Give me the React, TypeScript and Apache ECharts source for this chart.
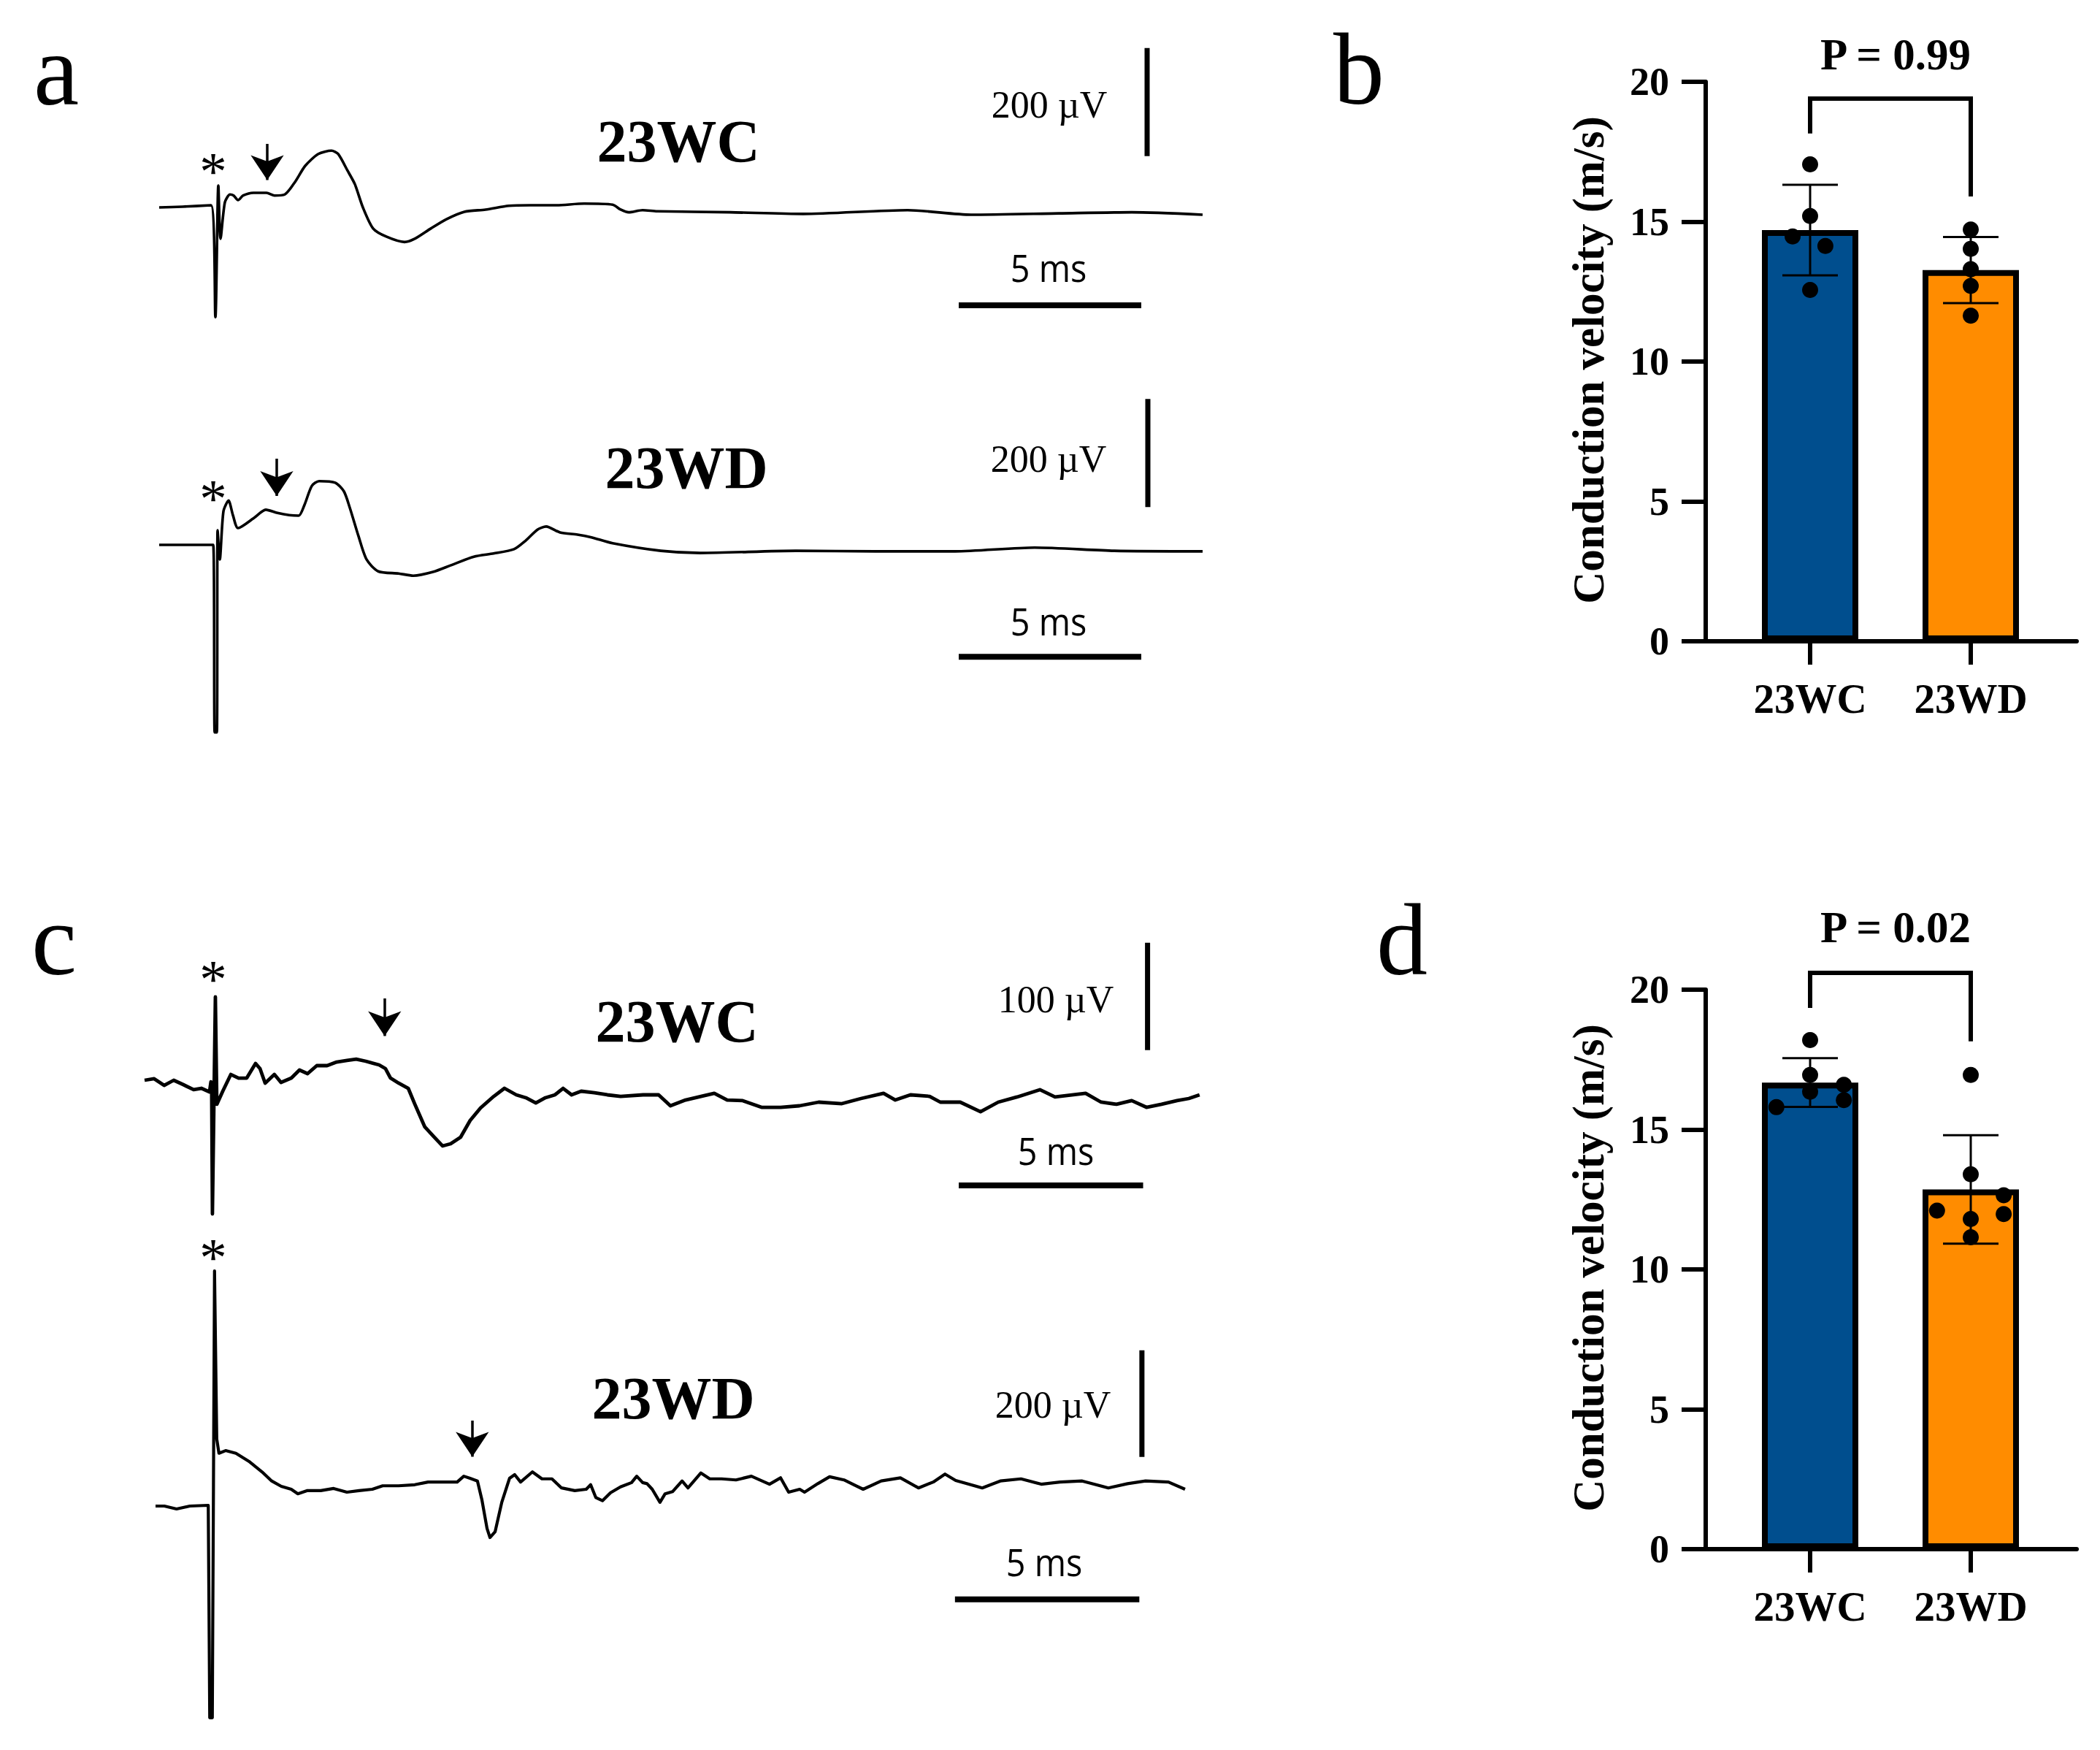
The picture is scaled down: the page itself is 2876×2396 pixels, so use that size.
import React, { useEffect, useRef } from 'react';
import * as echarts from 'echarts';

const W = 2876;
const H = 2396;
const SERIF = '"Liberation Serif", "Times New Roman", serif';
const SANS = '"Open Sans", "Noto Sans", sans-serif';

// ---------- Trace data: [time (ms), amplitude (µV)] ----------
const traceA1: [number, number][] = [
  [0, 0], [0.64, 1.4], [1.42, 4], [1.54, -203], [1.62, 40.5], [1.68, -58], [1.8, 9.5], [1.94, 24],
  [2.04, 22], [2.16, 13.5], [2.3, 22], [2.58, 27], [2.94, 27], [3.16, 22], [3.44, 24], [3.72, 47],
  [4.0, 77], [4.36, 99], [4.72, 105], [4.9, 99], [5.16, 68], [5.36, 43], [5.58, 0], [5.86, -39],
  [6.22, -54], [6.72, -64], [7.0, -58], [7.44, -39], [7.86, -22], [8.36, -8], [8.94, -4], [9.58, 3],
  [10.16, 4], [10.84, 4], [11.64, 7], [12.42, 5], [12.64, -4], [12.86, -9], [13.24, -5], [13.64, -7],
  [15.64, -9], [17.64, -12], [20.5, -5], [22.24, -13.5], [24.64, -11], [26.64, -9], [28.58, -13.5],
];

const traceA2: [number, number][] = [
  [0, 0], [1.48, 0], [1.52, -347], [1.58, -347], [1.6, 27], [1.66, -27], [1.76, 62], [1.9, 82],
  [2.02, 55], [2.16, 31], [2.6, 50], [2.92, 65], [3.24, 59], [3.56, 55], [3.82, 54], [3.98, 74],
  [4.18, 109], [4.38, 118], [4.82, 115], [5.06, 99], [5.22, 69], [5.46, 16], [5.68, -27], [6.0, -49],
  [6.56, -53], [6.96, -57], [7.5, -50], [7.98, -38], [8.62, -22], [9.16, -16], [9.72, -8], [10.04, 8],
  [10.36, 28], [10.6, 34], [10.98, 23], [11.46, 19], [11.84, 14], [12.42, 3], [13.74, -11], [14.82, -15],
  [17.44, -11], [19.62, -12], [21.8, -12], [23.98, -5], [26.16, -11], [28.58, -12],
];

const traceC1: [number, number][] = [
  [0, 0], [0.26, 1.4], [0.53, -4.8], [0.79, 0], [1.05, -4.1], [1.33, -8.8], [1.54, -7.5], [1.76, -10.9],
  [1.8, -1.4], [1.82, -10.9], [1.84, -124.5], [1.92, 77.6], [1.96, -22.4], [2.12, -10.2], [2.34, 5.4],
  [2.55, 2.0], [2.77, 2.0], [3.01, 15.6], [3.13, 10.9], [3.27, -2.7], [3.52, 5.4], [3.7, -2.0], [3.98, 2.0],
  [4.2, 9.5], [4.42, 6.1], [4.67, 13.6], [4.95, 13.6], [5.21, 17.0], [5.49, 18.4], [5.74, 19.7], [6.0, 17.7],
  [6.36, 14.3], [6.53, 10.9], [6.67, 2.0], [6.89, -2.7], [7.15, -7.5], [7.33, -22.4], [7.6, -43.5],
  [7.86, -53.1], [8.08, -61.2], [8.3, -59.2], [8.57, -53.1], [8.83, -37.4], [9.11, -25.9], [9.47, -15.0],
  [9.76, -7.5], [10.08, -13.6], [10.34, -16.3], [10.61, -21.1], [10.87, -16.3], [11.13, -13.6], [11.35, -7.5],
  [11.58, -13.6], [11.84, -10.2], [12.2, -11.6], [12.55, -13.6], [12.91, -15.0], [13.52, -13.6], [13.94, -13.6],
  [14.26, -23.8], [14.67, -18.4], [15.09, -15.0], [15.45, -12.2], [15.8, -18.4], [16.22, -19.0], [16.73, -25.2],
  [17.25, -25.2], [17.76, -23.8], [18.28, -20.4], [18.91, -21.8], [19.43, -17.0], [20.04, -12.2], [20.36, -18.4],
  [20.77, -13.6], [21.29, -15.0], [21.58, -20.4], [22.12, -20.4], [22.67, -29.3], [23.15, -20.4], [23.66, -15.6],
  [24.28, -8.8], [24.69, -15.6], [25.52, -12.2], [25.94, -20.4], [26.36, -22.4], [26.77, -19.0], [27.17, -25.2],
  [27.58, -22.4], [28.0, -19.0], [28.32, -17.0], [28.61, -13.6],
];

const traceC2: [number, number][] = [
  [0, 0], [0.24, 0], [0.57, -5.5], [0.93, 0], [1.43, 1.4], [1.47, -397], [1.54, -397], [1.6, 441],
  [1.66, 126], [1.72, 99], [1.9, 104], [2.18, 99], [2.53, 84], [2.89, 64], [3.15, 47], [3.41, 37],
  [3.68, 31.5], [3.86, 23], [4.12, 29], [4.48, 29], [4.83, 33], [5.19, 26], [5.52, 29], [5.88, 31.5],
  [6.16, 38], [6.59, 38], [7.03, 40], [7.39, 45], [7.84, 45], [8.18, 45], [8.36, 56], [8.53, 52],
  [8.73, 47], [8.85, 12], [8.99, -42], [9.07, -59], [9.21, -48], [9.39, 7], [9.6, 52], [9.74, 59],
  [9.9, 45], [10.22, 64], [10.48, 51], [10.75, 51], [11.01, 34], [11.37, 29], [11.68, 31.5], [11.8, 40],
  [11.94, 16], [12.12, 10], [12.34, 25], [12.61, 36], [12.91, 44], [13.05, 56], [13.21, 44], [13.33, 42],
  [13.47, 31.5], [13.68, 7], [13.82, 23], [14.02, 27], [14.28, 47], [14.44, 34], [14.79, 62], [15.03, 51],
  [15.35, 51], [15.74, 49], [16.16, 56], [16.65, 41], [16.95, 53], [17.17, 26], [17.47, 31.5], [17.6, 26],
  [17.96, 42], [18.28, 55], [18.67, 49], [19.19, 31.5], [19.68, 47], [20.2, 53], [20.69, 34], [21.09, 45],
  [21.41, 60], [21.7, 48], [22.42, 34], [22.91, 47], [23.47, 51], [24.02, 41], [24.53, 45], [25.13, 47],
  [25.84, 34], [26.36, 42], [26.85, 47], [27.47, 45], [27.92, 31.5],
];

// scale bars
const SCALE_MS = 5;
const scaleUvA1 = 200;
const scaleUvA2 = 200;
const scaleUvC1 = 100;
const scaleUvC2 = 200;

// ---------- Bar chart data ----------
const groups = ['23WC', '23WD'];
const meanB = [14.7, 13.27];
const sdB = [1.62, 1.18];
const dotsB_WC: [number, number][] = [[0, 17.05], [0, 15.2], [-0.109, 14.47], [0.095, 14.13], [0, 12.56]];
const dotsB_WD: [number, number][] = [[0, 14.72], [0, 14.03], [0, 13.3], [0, 12.7], [0, 11.64]];
const bracketB = { left: 18.15, top: 19.4, right: 15.9 };
const pLabelB = 'P = 0.99';

const meanD = [16.68, 12.86];
const sdD = [0.87, 1.94];
const dotsD_WC: [number, number][] = [[0, 18.2], [0, 16.95], [0.21, 16.6], [0, 16.35], [0.21, 16.05], [-0.21, 15.8]];
const dotsD_WD: [number, number][] = [[0, 16.95], [0, 13.4], [0.205, 12.65], [-0.21, 12.1], [0.205, 11.98], [0, 11.8], [0, 11.15]];
const bracketD = { left: 19.35, top: 20.6, right: 18.15 };
const pLabelD = 'P = 0.02';

const yTicks = { min: 0, max: 20, interval: 5 };
const barColors = ['#004E8E', '#FF8C00'];

// ---------- Layout ----------
const SPAN_MS = 29;
const traceLayouts = [
  { data: traceA1, x0: 218, pxMs: 50, base: 284, pxUv: 0.74, vMin: -250, vMax: 300, lw: 3.6, smooth: 0.25,
    hBar: [21.9, -181], vBar: [27.06, 95], uv: scaleUvA1, arrow: [2.96, 117.6, 50.7] },
  { data: traceA2, x0: 218, pxMs: 50, base: 746, pxUv: 0.74, vMin: -400, vMax: 300, lw: 3.6, smooth: 0.25,
    hBar: [21.9, -207], vBar: [27.08, 70], uv: scaleUvA2, arrow: [3.22, 159.5, 90.5] },
  { data: traceC1, x0: 198, pxMs: 50.5, base: 1479, pxUv: 1.47, vMin: -150, vMax: 150, lw: 4.8, smooth: false,
    hBar: [22.08, -98], vBar: [27.2, 28], uv: scaleUvC1, arrow: [6.51, 76.2, 41.2] },
  { data: traceC2, x0: 213, pxMs: 50.5, base: 2062, pxUv: 0.73, vMin: -450, vMax: 450, lw: 4.2, smooth: false,
    hBar: [21.68, -175], vBar: [26.75, 92], uv: scaleUvC2, arrow: [8.59, 160.3, 92.5] },
];

const barLayouts = [
  { top: 112, means: meanB, sds: sdB, dots: [dotsB_WC, dotsB_WD], bracket: bracketB },
  { top: 1355, means: meanD, sds: sdD, dots: [dotsD_WC, dotsD_WD], bracket: bracketD },
];
const BAR_LEFT = 2336;
const BAR_W = 508;
const BAR_H = 766;
const PX_PER_CAT = 220;
const X_MIN = 0.35;

function buildOption() {
  const grid: any[] = [];
  const xAxis: any[] = [];
  const yAxis: any[] = [];
  const series: any[] = [];

  traceLayouts.forEach((t, i) => {
    grid.push({
      left: t.x0,
      top: t.base - t.vMax * t.pxUv,
      width: SPAN_MS * t.pxMs,
      height: (t.vMax - t.vMin) * t.pxUv,
    });
    xAxis.push({ gridIndex: i, type: 'value', min: 0, max: SPAN_MS, show: false });
    yAxis.push({ gridIndex: i, type: 'value', min: t.vMin, max: t.vMax, show: false });
    series.push({
      type: 'line', xAxisIndex: i, yAxisIndex: i, data: t.data, symbol: 'none', clip: false,
      smooth: t.smooth, silent: true, lineStyle: { color: '#000', width: t.lw, join: 'round' }, z: 2,
      markLine: {
        silent: true, symbol: ['none', 'arrow'], symbolSize: 34, precision: 3,
        label: { show: false }, lineStyle: { color: '#000', width: 3.5, type: 'solid' },
        data: [[{ coord: [t.arrow[0], t.arrow[1]] }, { coord: [t.arrow[0], t.arrow[2]] }]],
      },
    });
    series.push({
      type: 'line', xAxisIndex: i, yAxisIndex: i, symbol: 'none', clip: false, silent: true,
      data: [[t.hBar[0], t.hBar[1]], [t.hBar[0] + SCALE_MS, t.hBar[1]]],
      lineStyle: { color: '#000', width: 8 },
    });
    series.push({
      type: 'line', xAxisIndex: i, yAxisIndex: i, symbol: 'none', clip: false, silent: true,
      data: [[t.vBar[0], t.vBar[1]], [t.vBar[0], t.vBar[1] + t.uv]],
      lineStyle: { color: '#000', width: 7 },
    });
  });

  barLayouts.forEach((b, k) => {
    const gi = 4 + k;
    grid.push({ left: BAR_LEFT, top: b.top, width: BAR_W, height: BAR_H });
    xAxis.push({
      gridIndex: gi, type: 'value', min: X_MIN, max: X_MIN + BAR_W / PX_PER_CAT,
      axisLine: { show: true, onZero: false, lineStyle: { color: '#000', width: 6 } },
      axisTick: { show: true, customValues: [1, 2], length: 32, lineStyle: { color: '#000', width: 6 } },
      axisLabel: {
        show: true, customValues: [1, 2], formatter: (v: number) => groups[Math.round(v) - 1] || '',
        fontFamily: SERIF, fontWeight: 'bold', fontSize: 57, color: '#000', margin: 50,
      },
      splitLine: { show: false },
    });
    yAxis.push({
      gridIndex: gi, type: 'value', min: yTicks.min, max: yTicks.max, interval: yTicks.interval,
      axisLine: { show: true, lineStyle: { color: '#000', width: 6 } },
      axisTick: { show: true, length: 33, lineStyle: { color: '#000', width: 6 } },
      axisLabel: { fontFamily: SERIF, fontWeight: 'bold', fontSize: 54, color: '#000', margin: 50 },
      splitLine: { show: false },
    });
    series.push({
      type: 'bar', xAxisIndex: gi, yAxisIndex: gi, barWidth: 132, silent: true, z: 2,
      data: b.means.map((m, i) => ({ value: [i + 1, m], itemStyle: { color: barColors[i] } })),
      itemStyle: { borderColor: '#000', borderWidth: 8 },
    });
    series.push({
      type: 'custom', xAxisIndex: gi, yAxisIndex: gi, silent: true, z: 3,
      encode: { x: 0, y: 1 },
      data: b.means.map((m, i) => [i + 1, m, b.sds[i]]),
      renderItem: (_p: any, api: any) => {
        const x = api.value(0);
        const m = api.value(1);
        const s = api.value(2);
        const top = api.coord([x, m + s]);
        const bot = api.coord([x, m - s]);
        const hw = 38;
        const st = { stroke: '#000', lineWidth: 3 };
        return {
          type: 'group',
          children: [
            { type: 'line', shape: { x1: top[0], y1: top[1], x2: bot[0], y2: bot[1] }, style: st },
            { type: 'line', shape: { x1: top[0] - hw, y1: top[1], x2: top[0] + hw, y2: top[1] }, style: st },
            { type: 'line', shape: { x1: bot[0] - hw, y1: bot[1], x2: bot[0] + hw, y2: bot[1] }, style: st },
          ],
        };
      },
    });
    b.dots.forEach((grp, i) => {
      series.push({
        type: 'scatter', xAxisIndex: gi, yAxisIndex: gi, symbolSize: 22, silent: true, z: 4,
        itemStyle: { color: '#000', opacity: 1 },
        data: grp.map(([dx, v]) => [i + 1 + dx, v]),
      });
    });
    series.push({
      type: 'line', xAxisIndex: gi, yAxisIndex: gi, symbol: 'none', clip: false, silent: true, z: 3,
      data: [[1, b.bracket.left], [1, b.bracket.top], [2, b.bracket.top], [2, b.bracket.right]],
      lineStyle: { color: '#000', width: 6, join: 'miter' },
    });
  });

  const txt = (text: string, x: number, y: number, font: string, align = 'center', extra: any = {}) => ({
    type: 'text', x, y, silent: true, ...extra,
    style: { text, font, fill: '#000', align, verticalAlign: 'middle' },
  });

  const graphic: any[] = [
    txt('a', 46, 95, `140px ${SERIF}`, 'left'),
    txt('b', 1826, 94, `140px ${SERIF}`, 'left'),
    txt('c', 43, 1286, `140px ${SERIF}`, 'left'),
    txt('d', 1885, 1286, `140px ${SERIF}`, 'left'),
    txt('23WC', 929, 193, `bold 82px ${SERIF}`),
    txt('23WD', 940, 640, `bold 82px ${SERIF}`),
    txt('23WC', 927, 1398, `bold 82px ${SERIF}`),
    txt('23WD', 922, 1914, `bold 82px ${SERIF}`),
    txt(`${scaleUvA1} µV`, 1437, 143, `52px ${SERIF}`),
    txt(`${scaleUvA2} µV`, 1436, 628, `52px ${SERIF}`),
    txt(`${scaleUvC1} µV`, 1446, 1368, `52px ${SERIF}`),
    txt(`${scaleUvC2} µV`, 1442, 1923, `52px ${SERIF}`),
    txt(`${SCALE_MS} ms`, 1436, 366, `52px ${SANS}`, 'center', { scaleX: 0.9 }),
    txt(`${SCALE_MS} ms`, 1436, 850, `52px ${SANS}`, 'center', { scaleX: 0.9 }),
    txt(`${SCALE_MS} ms`, 1446, 1575, `52px ${SANS}`, 'center', { scaleX: 0.9 }),
    txt(`${SCALE_MS} ms`, 1430, 2138, `52px ${SANS}`, 'center', { scaleX: 0.9 }),
    txt('*', 292, 234, `75px ${SERIF}`),
    txt('*', 292, 682, `75px ${SERIF}`),
    txt('*', 292, 1340, `75px ${SERIF}`),
    txt('*', 292, 1721, `75px ${SERIF}`),
    txt(pLabelB, 2596, 74, `bold 61px ${SERIF}`),
    txt(pLabelD, 2596, 1269, `bold 61px ${SERIF}`),
    txt('Conduction velocity (m/s)', 2175, 493, `bold 61px ${SERIF}`, 'center', { rotation: Math.PI / 2 }),
    txt('Conduction velocity (m/s)', 2175, 1736, `bold 61px ${SERIF}`, 'center', { rotation: Math.PI / 2 }),
  ];

  return {
    animation: false,
    backgroundColor: '#ffffff',
    textStyle: { fontFamily: SERIF },
    grid, xAxis, yAxis, series, graphic,
  };
}

export default function App() {
  const ref = useRef<HTMLDivElement>(null);
  useEffect(() => {
    if (!ref.current) return;
    const chart = echarts.init(ref.current, undefined, { renderer: 'svg', width: W, height: H });
    chart.setOption(buildOption() as any);
    return () => chart.dispose();
  }, []);
  return (
    <div
      ref={ref}
      style={{ position: 'absolute', left: 0, top: 0, width: W, height: H, background: '#fff' }}
    />
  );
}
